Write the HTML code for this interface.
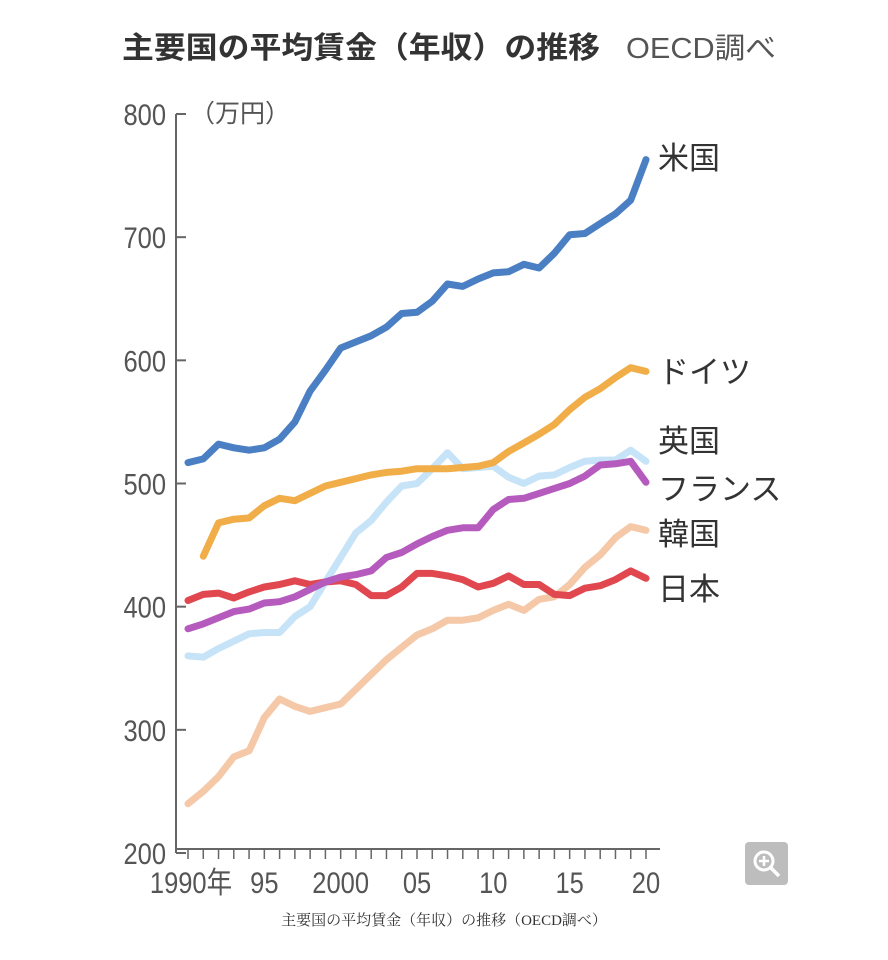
<!DOCTYPE html>
<html><head><meta charset="utf-8">
<style>
body{margin:0;background:#fff;width:888px;height:960px;overflow:hidden;font-family:"Liberation Sans","Noto Sans CJK JP",sans-serif}
svg{display:block}
</style></head>
<body>
<svg id="chart" width="888" height="960">
<text x="122" y="58" font-size="30" font-weight="bold" fill="#333" textLength="478" lengthAdjust="spacingAndGlyphs" font-family="Liberation Sans, Noto Sans CJK JP, sans-serif">主要国の平均賃金（年収）の推移</text>
<text x="626" y="58" font-size="29" fill="#555" textLength="150" lengthAdjust="spacingAndGlyphs" font-family="Liberation Sans, Noto Sans CJK JP, sans-serif">OECD調べ</text>
<text x="190" y="122" font-size="25" fill="#555" font-family="Liberation Sans, Noto Sans CJK JP, sans-serif">（万円）</text>
<g id="axes"></g>
<g id="lines"></g>
<g id="labels"></g>
<text x="444" y="925" font-size="15" fill="#333" text-anchor="middle" font-family="Liberation Serif, Noto Serif CJK SC, serif">主要国の平均賃金（年収）の推移（OECD調べ）</text>
<g>
<rect x="745" y="842" width="43" height="43" rx="4" fill="#bdbdbd"/>
<circle cx="764" cy="861" r="9" fill="none" stroke="#fff" stroke-width="3"/>
<line x1="771" y1="868" x2="779" y2="876" stroke="#fff" stroke-width="3.5"/>
<line x1="759" y1="861" x2="769" y2="861" stroke="#fff" stroke-width="2.5"/>
<line x1="764" y1="856" x2="764" y2="866" stroke="#fff" stroke-width="2.5"/>
</g>
</svg>
<script>
const years=[1990,1991,1992,1993,1994,1995,1996,1997,1998,1999,2000,2001,2002,2003,2004,2005,2006,2007,2008,2009,2010,2011,2012,2013,2014,2015,2016,2017,2018,2019,2020];
const usValues=[517,520,532,529,527,529,536,550,575,592,610,615,620,627,638,639,648,662,660,666,671,672,678,675,687,702,703,711,719,730,763];
const germanyValues=[null,441,468,471,472,482,488,486,492,498,501,504,507,509,510,512,512,512,513,514,517,526,533,540,548,560,570,577,586,594,591];
const ukValues=[360,359,366,372,378,379,379,392,400,420,440,460,470,485,498,500,512,525,512,513,514,505,500,506,507,513,518,519,519,527,518];
const franceValues=[382,386,391,396,398,403,404,408,414,420,424,426,429,440,444,451,457,462,464,464,479,487,488,492,496,500,506,515,516,518,501];
const japanValues=[405,410,411,407,412,416,418,421,418,420,421,418,409,409,416,427,427,425,422,416,419,425,418,418,410,409,415,417,422,429,423];
const koreaValues=[240,250,262,278,283,310,325,319,315,318,321,333,345,357,367,377,382,389,389,391,397,402,397,406,408,418,432,442,456,465,462];
const yTicks=[200,300,400,500,600,700,800];
const xTickLabels=["1990年","95","2000","05","10","15","20"];
const xTickYears=[1990,1995,2000,2005,2010,2015,2020];
const seriesNames=["米国","ドイツ","英国","フランス","韓国","日本"];

const NS="http://www.w3.org/2000/svg";
const X0=188,X1=646,Y0=853,Y1=114;
function xs(y){return X0+(y-1990)*(X1-X0)/30;}
function ys(v){return Y0-(v-200)*(Y0-Y1)/600;}
function mk(tag,attrs,parent){const e=document.createElementNS(NS,tag);for(const k in attrs)e.setAttribute(k,attrs[k]);parent.appendChild(e);return e;}
const axes=document.getElementById('axes');
let ya=mk('line',{x1:176,y1:Y1,x2:176,y2:Y0,stroke:'#666','stroke-width':2},axes);


let xa=mk('line',{x1:176,y1:Y0-4,x2:660,y2:Y0-4,stroke:'#666','stroke-width':2},axes);


yTicks.forEach(v=>{
 mk('line',{x1:176,y1:ys(v),x2:186,y2:ys(v),stroke:'#666','stroke-width':2},axes);
 const t=mk('text',{x:166/0.85,y:ys(v)+11,'font-size':30,fill:'#555','text-anchor':'end',transform:'scale(0.85,1)'},axes);
 t.textContent=v;
 
 
});
years.forEach(y=>{mk('line',{x1:xs(y),y1:Y0-4,x2:xs(y),y2:Y0+6,stroke:'#666','stroke-width':1.5},axes);});
xTickYears.forEach((y,i)=>{
 const t=mk('text',{x:xs(y)/0.85,y:893,'font-size':30,fill:'#555','text-anchor':'middle',transform:'scale(0.85,1)'},axes);
 if(i===0){t.setAttribute('x',(xs(y)+3)/0.85);}
 t.textContent=xTickLabels[i];
 
 
});
const lines=document.getElementById('lines');
const series=[[koreaValues,'#f5c8a8','line-korea'],[ukValues,'#c6e3f8','line-uk'],[japanValues,'#e0474f','line-japan'],[franceValues,'#b65bbe','line-france'],[germanyValues,'#f0ad48','line-germany'],[usValues,'#4a7fc4','line-us']];
series.forEach(s=>{
 let d='';let started=false;
 s[0].forEach((v,i)=>{if(v==null)return;d+=(started?'L':'M')+xs(years[i]).toFixed(1)+','+ys(v).toFixed(1);started=true;});
 const p=mk('path',{d:d,fill:'none',stroke:s[1],'stroke-width':7,'stroke-linejoin':'round','stroke-linecap':'round'},lines);
 
 
});
const labels=document.getElementById('labels');
const labelY=[157,371,440,488,533,588];
seriesNames.forEach((n,i)=>{
 const t=mk('text',{x:658,y:labelY[i]+12,'font-size':31,fill:'#333'},labels);
 t.textContent=n;
 
 
});
</script>
</body></html>
